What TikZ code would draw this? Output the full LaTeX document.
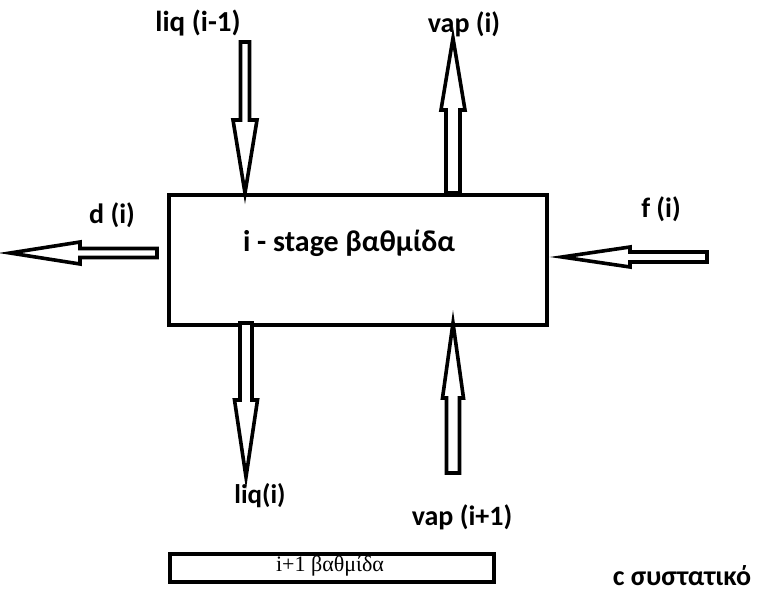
\documentclass[tikz,border=0pt]{standalone}
\usepackage{fontspec}
\newfontfamily\labfont{Carlito}
\newfontfamily\serfont{Liberation Serif}
\tikzset{
  arrowline/.style={draw=black, line width=3.6pt, line join=miter, fill=white},
  lab/.style={font=\labfont\bfseries\fontsize{28}{32}\selectfont, inner sep=0pt},
  box/.style={draw=black, line width=4pt, fill=white}
}
% #1 tail point, #2 rotation, #3 shaft length, #4 head length, #5 shaft half width, #6 head half width
\newcommand\blockarr[6]{%
  \draw[arrowline, shift={#1}, rotate=#2] (0,-#5) -- (#3,-#5) -- (#3,-#6) -- (#3+#4,0) -- (#3,#6) -- (#3,#5) -- (0,#5) -- cycle;}
\begin{document}
\begin{tikzpicture}[x=1pt,y=-1pt]
\useasboundingbox (0,0) rectangle (777,607);
% main stage box
\node[box, minimum width=378pt, minimum height=130pt, anchor=north west, inner sep=0pt] (stage) at (167,193) {};
\node[font=\labfont\bfseries\fontsize{30}{34}\selectfont, inner sep=0pt] (stagetxt) at (349,243) {i - stage βαθμίδα};
% next stage box
\node[draw=black, line width=3.5pt, minimum width=324pt, minimum height=28pt, anchor=north west, inner sep=0pt] (next) at (168,552) {};
\node[font=\serfont\fontsize{22}{26}\selectfont, inner sep=0pt] (nexttxt) at (330,566) {i+1 βαθμίδα};
% labels
\node[lab, font=\labfont\bfseries\fontsize{29}{33}\selectfont] (liqin) at (198,23) {liq (i-1)};
\node[lab] (vapout) at (464,24) {vap (i)};
\node[lab] (dout) at (112,215) {d (i)};
\node[lab] (fin) at (661,209) {f (i)};
\node[lab, font=\labfont\bfseries\fontsize{27}{31}\selectfont] (liqout) at (260,496) {liq(i)};
\node[lab] (vapin) at (462,517) {vap (i+1)};
\node[lab] (comp) at (682,576) {c συστατικό};
% block arrows
\blockarr{(245,42)}{-90}{78}{73}{4.5}{12}
\blockarr{(453,193)}{90}{83}{72}{7}{12}
\blockarr{(157,253)}{180}{77}{70}{4.5}{11}
\blockarr{(707,257)}{180}{77}{68}{5}{10}
\blockarr{(246,323)}{-90}{77}{77}{6}{11.5}
\blockarr{(453,473)}{90}{75}{75}{6.5}{10.5}
\end{tikzpicture}
\end{document}
